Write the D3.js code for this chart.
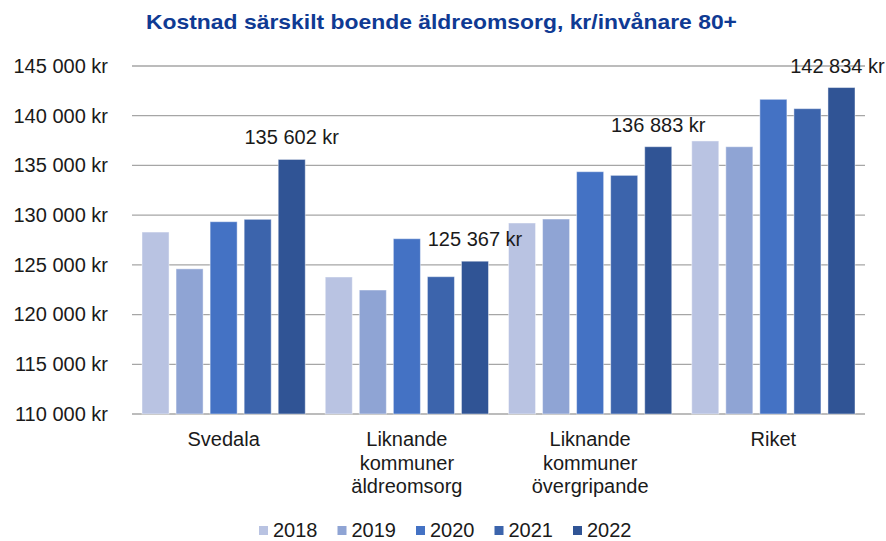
<!DOCTYPE html>
<html>
<head>
<meta charset="utf-8">
<script src="https://cdn.jsdelivr.net/npm/d3@7/dist/d3.min.js"></script>
<style>
  body { margin: 0; background: #fff; }
  svg { display: block; font-family: "Liberation Sans", Arial, sans-serif; }
</style>
</head>
<body>
<div id="chart"></div>
<script>
// data
const categories = ["Svedala", "Liknande kommuner äldreomsorg", "Liknande kommuner övergripande", "Riket"];
const catLines = [["Svedala"], ["Liknande", "kommuner", "äldreomsorg"], ["Liknande", "kommuner", "övergripande"], ["Riket"]];
const years = ["2018", "2019", "2020", "2021", "2022"];
const v2018 = [128300, 123780, 129210, 137460];
const v2019 = [124600, 122470, 129610, 136880];
const v2020 = [129340, 127630, 134370, 141650];
const v2021 = [129580, 123810, 134000, 140710];
const v2022 = [135602, 125367, 136883, 142834];
const yTicks = [110000, 115000, 120000, 125000, 130000, 135000, 140000, 145000];
const labelledYear = "2022";

const colors = {
    "2018": "#b9c3e2",
    "2019": "#8fa4d4",
    "2020": "#4472c4",
    "2021": "#3c64ac",
    "2022": "#305495"
};

const series = { "2018": v2018, "2019": v2019, "2020": v2020, "2021": v2021, "2022": v2022 };

const width = 886, height = 541;
const plot = { left: 132, right: 865, top: 66, bottom: 414 };

const svg = d3.select("#chart")
    .append("svg")
        .attr("width", width)
        .attr("height", height);

const fmt = d3.formatLocale({ thousands: " ", grouping: [3], decimal: ",", currency: ["", ""] }).format(",");
const kr = v => fmt(v) + " kr";

const y = d3.scaleLinear()
    .domain([110000, 145000])
    .range([plot.bottom, plot.top]);

const x0 = d3.scaleBand()
    .domain(categories)
    .range([plot.left, plot.right])
    .padding(0);

const x1 = d3.scaleBand()
    .domain(years)
    .range([10, x0.bandwidth() - 10])
    .paddingInner(0.206)
    .paddingOuter(0);

// gridlines
svg.append("g")
    .selectAll("line")
    .data(yTicks)
    .join("line")
        .attr("x1", plot.left)
        .attr("x2", plot.right)
        .attr("y1", d => y(d))
        .attr("y2", d => y(d))
        .attr("stroke", "#a6a6a6")
        .attr("stroke-width", 1.3);

// y axis labels
const yAxis = svg.append("g")
    .attr("transform", `translate(${plot.left - 24},0)`)
    .call(d3.axisLeft(y).tickValues(yTicks).tickFormat(kr).tickSize(0).tickPadding(0));
yAxis.select(".domain").remove();
yAxis.selectAll("text")
    .attr("font-size", 20)
    .attr("font-family", "Liberation Sans, Arial, sans-serif")
    .attr("fill", "#1a1a1a");

// bars
const groups = svg.append("g")
    .selectAll("g")
    .data(categories)
    .join("g")
        .attr("transform", d => `translate(${x0(d)},0)`);

groups.selectAll("rect")
    .data((c, i) => years.map(yr => ({ year: yr, value: series[yr][i] })))
    .join("rect")
        .attr("x", d => x1(d.year))
        .attr("y", d => y(d.value))
        .attr("width", x1.bandwidth())
        .attr("height", d => y(110000) - y(d.value))
        .attr("fill", d => colors[d.year])
        .attr("stroke", "rgba(255,255,255,0.45)")
        .attr("stroke-width", 1);

// value labels on the last series, drawn above all bars
const vals = svg.append("g")
    .selectAll("text")
    .data(categories.map((c, i) => ({ cat: c, value: series[labelledYear][i] })))
    .join("text")
        .attr("x", d => x0(d.cat) + x1(labelledYear) + x1.bandwidth() / 2)
        .attr("y", d => y(d.value) - 15)
        .attr("text-anchor", "middle")
        .attr("font-size", 20)
        .attr("fill", "#1a1a1a")
        .text(d => kr(d.value));
// keep labels inside the picture
vals.each(function() {
    const b = this.getBBox();
    const over = b.x + b.width - (width - 1);
    if (over > 0) d3.select(this).attr("x", +d3.select(this).attr("x") - over);
});

// category labels
const catG = svg.append("g");
categories.forEach((c, i) => {
    const t = catG.append("text")
        .attr("text-anchor", "middle")
        .attr("font-size", 20)
        .attr("fill", "#1a1a1a");
    catLines[i].forEach((ln, j) => {
        t.append("tspan")
            .attr("x", x0(c) + x0.bandwidth() / 2)
            .attr("y", 446 + j * 23.5)
            .text(ln);
    });
});

// title
svg.append("text")
    .attr("x", 441.5)
    .attr("y", 29)
    .attr("text-anchor", "middle")
    .attr("font-size", 21)
    .attr("font-weight", "bold")
    .attr("fill", "#0f3a93")
    .attr("textLength", 591)
    .attr("lengthAdjust", "spacingAndGlyphs")
    .text("Kostnad särskilt boende äldreomsorg, kr/invånare 80+");

// legend
const legend = svg.append("g");
const legX = d3.scalePoint().domain(years).range([259, 573]);
const item = legend.selectAll("g")
    .data(years)
    .join("g")
        .attr("transform", d => `translate(${legX(d)},0)`);
item.append("rect")
    .attr("x", 0)
    .attr("y", 526)
    .attr("width", 9)
    .attr("height", 9)
    .attr("fill", d => colors[d]);
item.append("text")
    .attr("x", 14)
    .attr("y", 537)
    .attr("font-size", 20)
    .attr("fill", "#1a1a1a")
    .text(d => d);
</script>
</body>
</html>
